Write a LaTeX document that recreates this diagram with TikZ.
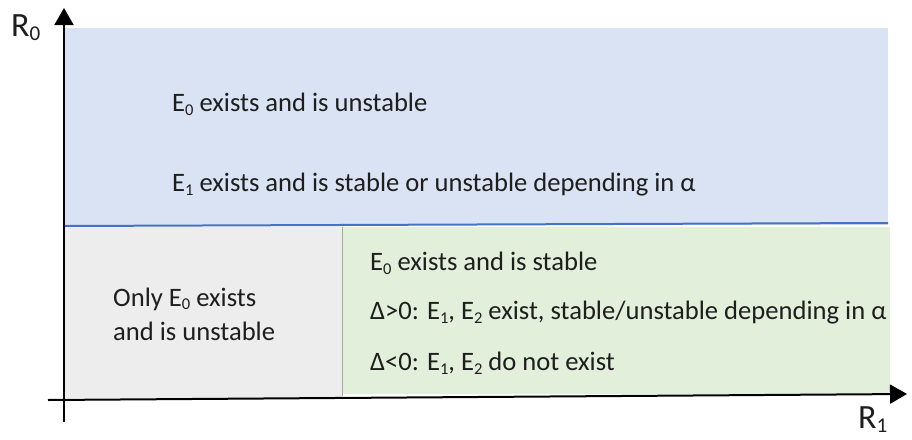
\documentclass[tikz,border=0pt]{standalone}
\usepackage{fontspec}
\setmainfont{Carlito}
\usetikzlibrary{arrows.meta}
\definecolor{bluefill}{RGB}{218,227,243}
\definecolor{greenfill}{RGB}{226,239,218}
\definecolor{grayfill}{RGB}{237,237,237}
\definecolor{blueline}{RGB}{68,114,196}
\definecolor{txt}{RGB}{30,30,30}
\newcommand{\sbs}[1]{\raisebox{-0.3ex}{\scalebox{0.62}{#1}}}
\tikzset{
  region/.style={draw=none, inner sep=0pt, outer sep=0pt},
  lbl/.style={anchor=west, inner sep=0pt, font=\fontsize{26.6}{31}\selectfont, text=txt},
  axislbl/.style={anchor=base west, inner sep=0pt, font=\fontsize{34}{38}\selectfont, text=txt},
  axis/.style={line width=2pt, -{Triangle[length=17pt,width=19pt]}}
}
\begin{document}
\begin{tikzpicture}[x=1pt,y=-1pt]
\useasboundingbox (0,0) rectangle (912,439);
% regions
\fill[bluefill] (64,28) rectangle (888,225);
\fill[grayfill] (64,227) rectangle (342,398);
\fill[greenfill] (342,227) rectangle (890,394);
\draw[blueline, line width=2pt] (64,226) -- (888,223);
\draw[gray!70, line width=0.6pt] (342,227) -- (342,396);
% axes
\coordinate (yb) at (64,422);
\coordinate (yt) at (64,8);
\coordinate (xl) at (48,400);
\coordinate (xr) at (907,394);
\draw[axis] (yb) -- (yt);
\draw[axis] (xl) -- (xr);
\node[axislbl] (r0) at (11,36) {R\sbs{0}};
\node[axislbl] (r1) at (858,428) {R\sbs{1}};
% texts
\node[lbl] (b1) at (172,104) {E\sbs{0} exists and is unstable};
\node[lbl] (b2) at (172,185) {E\sbs{1} exists and is stable or unstable depending in α};
\node[lbl] (g1) at (113,299) {Only E\sbs{0} exists};
\node[lbl] (g2) at (113,331) {and is unstable};
\node[lbl] (c1) at (370,263) {E\sbs{0} exists and is stable};
\node[lbl] (c2) at (370,313) {Δ>0: E\sbs{1}, E\sbs{2} exist, stable/unstable depending in α};
\node[lbl] (c3) at (370,363) {Δ<0: E\sbs{1}, E\sbs{2} do not exist};
\end{tikzpicture}
\end{document}
